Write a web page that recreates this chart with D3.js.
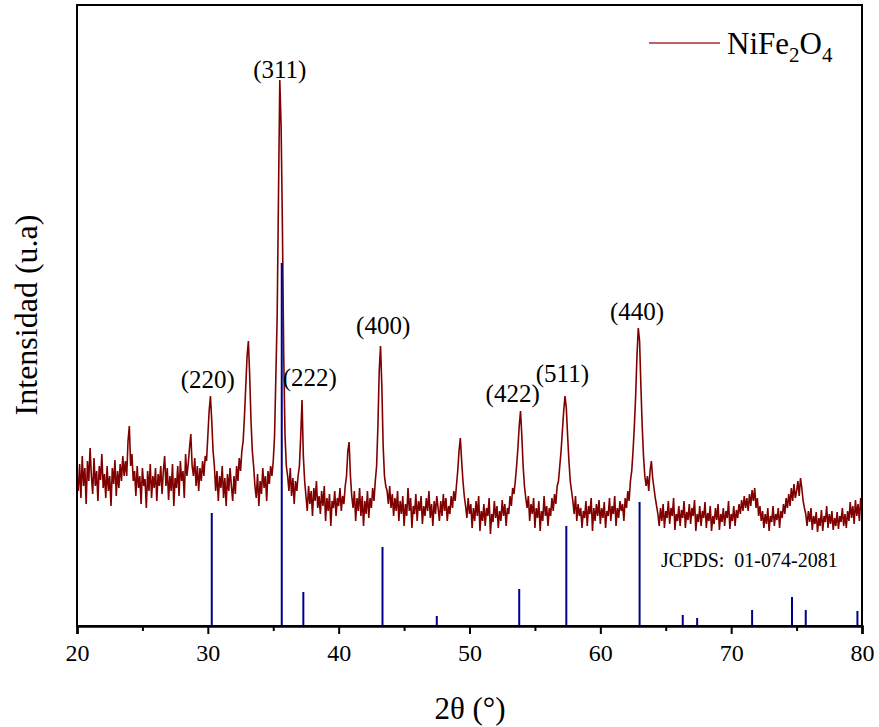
<!DOCTYPE html>
<html>
<head>
<meta charset="utf-8">
<script src="https://cdn.jsdelivr.net/npm/d3@7"></script>
<style>
  html, body { margin: 0; padding: 0; background: #fff; }
  svg { display: block; font-family: "Liberation Serif", "Times New Roman", serif; }
</style>
</head>
<body>
<svg id="chart" width="879" height="727"></svg>
<script>
// ---- data ----
const scanStart = 20;      // 2θ of first sample
const scanStep = 0.1;      // 2θ step of samples
// measured intensity (a.u.), one row per degree (20.0 ... 80.0)
const intensity = [
  150,135,162,128,170,140,158,122,165,145,
  178,150,132,168,140,155,125,160,146,172,
  138,152,128,160,135,150,120,158,142,166,
  130,155,138,162,145,170,150,165,150,185,
  200,160,172,145,155,130,160,138,150,122,
  158,140,147,118,155,135,162,128,150,138,
  158,125,152,140,160,132,155,170,140,158,
  126,150,135,162,120,148,138,160,130,165,
  145,155,128,172,150,162,178,192,160,150,
  168,140,160,135,158,145,165,150,170,165,
  190,215,230,205,175,160,135,155,125,150,
  138,160,128,148,120,152,135,158,140,125,
  150,132,160,145,168,155,175,185,210,240,
  270,285,250,205,175,160,140,128,152,120,
  145,132,158,138,150,125,155,142,160,150,
  165,190,250,310,430,546,500,400,270,190,
  160,150,135,158,130,148,122,145,135,150,
  160,190,226,170,145,130,115,140,122,135,
  110,138,125,145,118,130,112,135,120,140,
  105,128,115,132,100,125,118,135,110,128,
  120,138,115,130,122,140,150,175,184,150,
  130,118,135,105,128,115,138,110,130,100,
  125,112,135,108,128,118,138,125,145,160,
  200,255,280,240,180,150,140,135,122,140,
  118,132,110,128,115,135,105,125,112,130,
  100,122,110,138,115,128,98,120,112,132,
  105,125,115,130,102,120,110,128,115,135,
  108,122,100,125,112,130,118,105,125,110,
  132,115,128,105,120,112,130,118,135,125,
  140,155,175,188,165,145,130,120,108,128,
  112,122,98,118,105,125,110,130,95,115,
  105,122,100,118,110,128,92,112,104,125,
  108,120,98,115,105,126,110,122,100,118,
  112,130,120,138,132,145,160,178,200,215,
  190,160,140,128,118,130,105,122,112,128,
  98,118,108,125,95,115,105,130,110,120,
  100,118,110,128,115,132,122,140,145,160,
  175,195,215,230,218,190,165,145,135,125,
  112,130,105,122,110,118,98,115,108,125,
  100,120,112,128,95,118,105,122,110,126,
  102,118,108,124,98,115,110,128,105,120,
  112,130,100,118,108,125,115,122,105,128,
  118,135,125,145,155,175,200,230,270,298,
  285,240,200,170,150,140,150,135,155,165,
  148,138,128,120,112,100,118,105,122,98,
  115,108,125,102,118,110,128,96,112,105,
  120,100,116,108,125,98,114,106,122,102,
  118,110,126,95,112,104,120,100,115,108,
  124,98,113,105,120,95,110,102,118,106,
  122,96,112,104,118,100,115,108,125,97,
  112,105,120,100,116,108,122,112,126,115,
  130,118,128,115,132,120,136,125,138,118,
  128,110,120,105,115,98,112,102,118,95,
  110,104,120,100,112,106,118,98,115,108,
  122,112,128,118,132,120,138,125,142,128,
  135,145,130,148,138,125,118,112,100,115,
  104,118,96,110,102,114,94,108,100,116,
  95,110,104,120,98,112,102,115,96,108,
  100,114,97,110,104,118,100,112,98,115,
  105,124,108,120,102,126,110,122,105,128,
  112
];
// JCPDS 01-074-2081 reference lines
const refPos = [30.3, 35.65, 37.3, 43.35, 47.5, 53.8, 57.4, 63.0, 66.3, 67.4, 71.6, 74.65, 75.7, 79.65];
const refInt = [113, 363, 34, 79, 10, 37, 100, 124, 11, 8, 16, 29, 16, 15];
// Miller index labels
const hklLabels = ["(220)", "(311)", "(222)", "(400)", "(422)", "(511)", "(440)"];
const hklPos = [30.0, 35.5, 37.8, 43.4, 53.3, 57.1, 62.8];
const hklInt = [238, 548, 240, 292, 224, 244, 306];
const xTicks = [20, 30, 40, 50, 60, 70, 80];
const xMinorTicks = [25, 35, 45, 55, 65, 75];

// ---- layout ----
const L = 77, R = 862, T = 5, B = 626;
const svg = d3.select("#chart");
const x = d3.scaleLinear().domain([20, 80]).range([L, R]);
const y = d3.scaleLinear().domain([0, 621]).range([B, T]);

const pts = intensity.map((v, i) => [scanStart + i * scanStep, v]);

// pattern
svg.append("path")
  .datum(pts)
  .attr("fill", "none")
  .attr("stroke", "#800000")
  .attr("stroke-width", 1.6)
  .attr("stroke-linejoin", "miter")
  .attr("d", d3.line().x(d => x(d[0])).y(d => y(d[1])));

// reference sticks
svg.append("g").selectAll("line")
  .data(refPos)
  .join("line")
  .attr("x1", d => x(d)).attr("x2", d => x(d))
  .attr("y1", y(0))
  .attr("y2", (d, i) => y(refInt[i]))
  .attr("stroke", "#00008b")
  .attr("stroke-width", 2);

// frame
svg.append("rect")
  .attr("x", L).attr("y", T).attr("width", R - L).attr("height", B - T)
  .attr("fill", "none").attr("stroke", "#000").attr("stroke-width", 2);

// x axis
const xAxis = d3.axisBottom(x).tickValues(xTicks).tickSize(8).tickPadding(10).tickFormat(d3.format("d"));
const gx = svg.append("g").attr("transform", `translate(0,${B})`).call(xAxis);
gx.select(".domain").attr("stroke-width", 2.5);
gx.selectAll(".tick line").attr("stroke-width", 2);
gx.selectAll(".tick text").attr("font-size", 24).attr("fill", "#000")
  .attr("font-family", "Liberation Serif, serif");
const xMinor = d3.axisBottom(x).tickValues(xMinorTicks).tickSize(5).tickFormat("");
const gm = svg.append("g").attr("transform", `translate(0,${B})`).call(xMinor);
gm.select(".domain").remove();
gm.selectAll(".tick line").attr("stroke-width", 2);

// axis titles
svg.append("text")
  .attr("x", 470).attr("y", 719)
  .attr("text-anchor", "middle").attr("font-size", 31)
  .text("2θ (°)");
svg.append("text")
  .attr("transform", "translate(37,315) rotate(-90)")
  .attr("text-anchor", "middle").attr("font-size", 32)
  .text("Intensidad (u.a)");

// hkl labels
svg.append("g").selectAll("text")
  .data(hklLabels)
  .join("text")
  .attr("x", (d, i) => x(hklPos[i]))
  .attr("y", (d, i) => y(hklInt[i]))
  .attr("text-anchor", "middle")
  .attr("font-size", 25)
  .text(d => d);

// JCPDS note
svg.append("text")
  .attr("x", 661).attr("y", 567)
  .attr("font-size", 20)
  .attr("xml:space", "preserve")
  .text("JCPDS:  01-074-2081");

// legend
svg.append("line")
  .attr("x1", 649).attr("x2", 720).attr("y1", 43).attr("y2", 43)
  .attr("stroke", "#a03030").attr("stroke-width", 1.5);
const lg = svg.append("text").attr("x", 727).attr("y", 54).attr("font-size", 31);
lg.append("tspan").text("NiFe");
lg.append("tspan").attr("font-size", 21).attr("dy", 8).text("2");
lg.append("tspan").attr("dy", -8).text("O");
lg.append("tspan").attr("font-size", 21).attr("dy", 8).text("4");
</script>
</body>
</html>
